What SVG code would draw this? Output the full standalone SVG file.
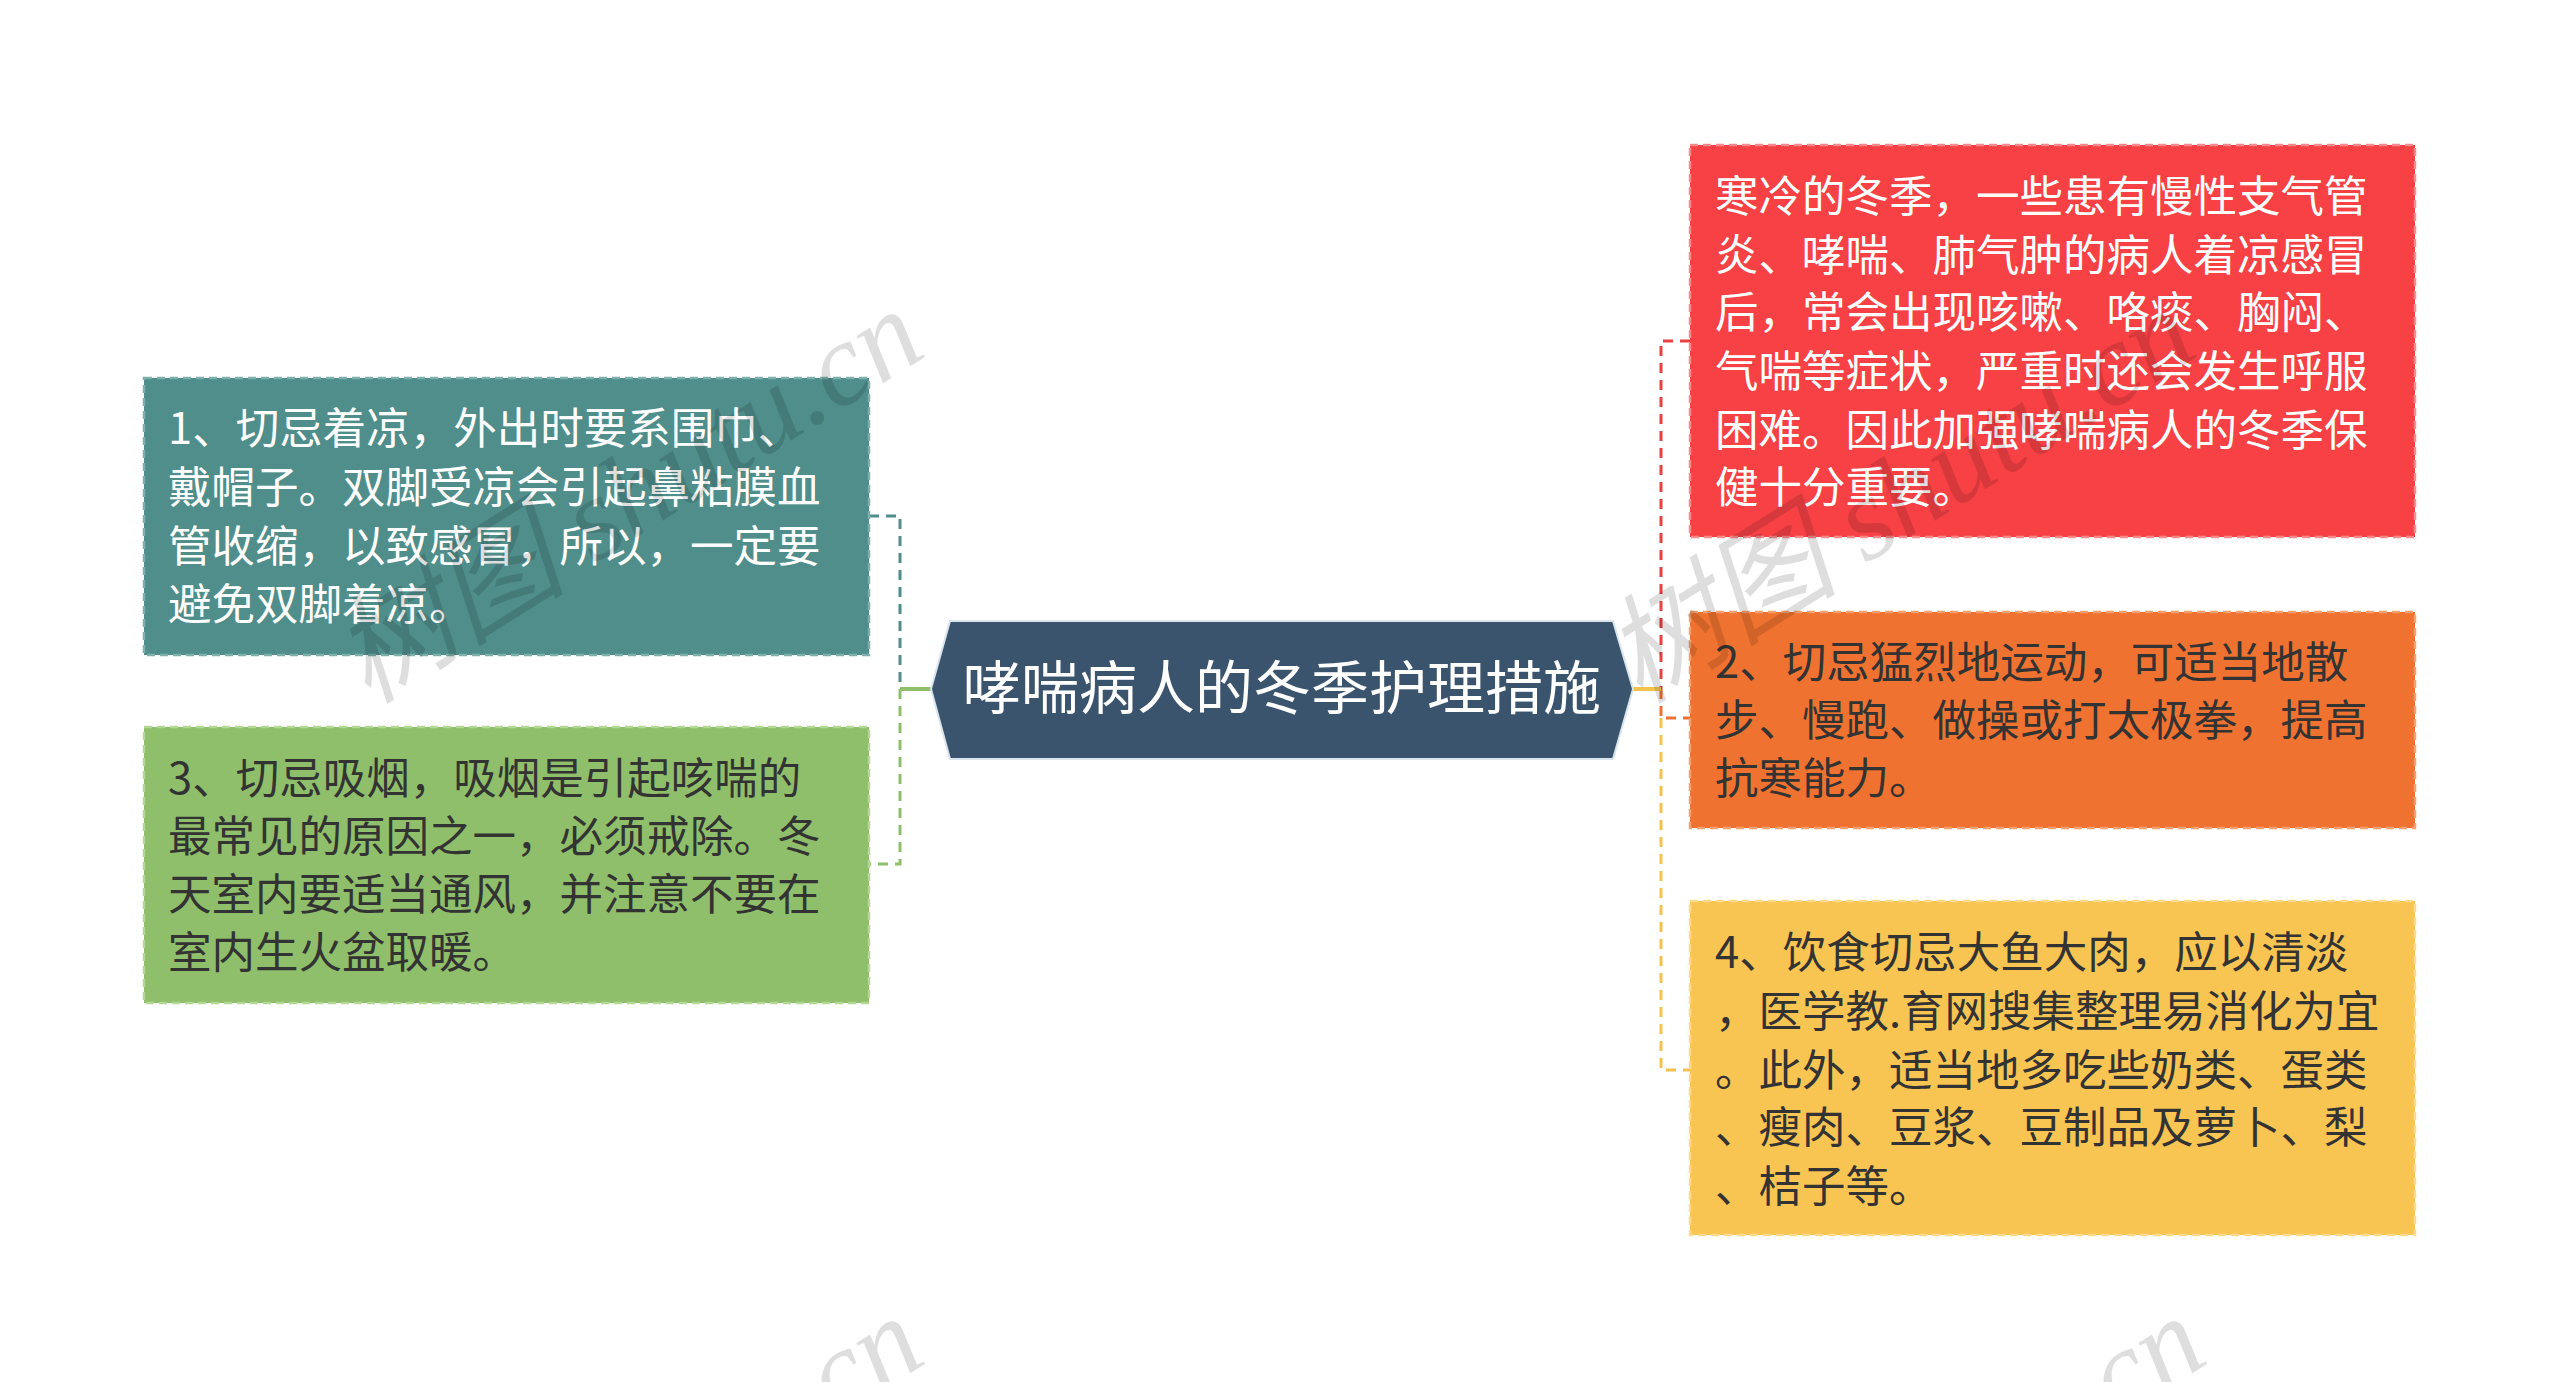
<svg xmlns="http://www.w3.org/2000/svg" width="2560" height="1382" viewBox="0 0 2560 1382">
<style>
.t{font-family:"Noto Sans CJK SC","Noto Sans",sans-serif;font-size:43.5px;}
.w{fill:#ffffff;}
.d{fill:#333333;}
.box{stroke-width:2.5;stroke-dasharray:8 5;}
.c{fill:none;stroke-width:3;stroke-dasharray:10 7;}
.wm{font-family:"Liberation Serif","Noto Sans CJK SC",serif;font-style:italic;font-size:118px;fill:#000;fill-opacity:0.13;}
</style>
<rect width="2560" height="1382" fill="#ffffff"/>
<g id="connectors">
<path class="c" stroke="#4F8E8B" d="M869 516 H900 V689"/>
<path class="c" stroke="#8FBF6A" d="M900 689 V864 H869"/>
<path d="M900 689 H931" stroke="#8FBF6A" stroke-width="4" fill="none"/>
<path class="c" stroke="#E8413F" d="M1690 341 H1661 V689"/>
<path class="c" stroke="#EE7332" d="M1661 689 V718 H1690"/>
<path class="c" stroke="#F5C24E" d="M1661 718 V1070 H1690"/>
<path d="M1633 689 H1661" stroke="#F5C24E" stroke-width="4" fill="none"/>
</g>
<g id="center">
<polygon points="931,689 950,621 1613,621 1633,689 1613,759 950,759" fill="#3A546E" stroke="#D9E4EC" stroke-width="2"/>
<text x="1282" y="709" text-anchor="middle" font-family="Noto Sans CJK SC,sans-serif" font-size="58" fill="#ffffff">哮喘病人的冬季护理措施</text>
</g>
<g id="node1">
<rect class="box" x="144" y="378" width="725" height="277" fill="#4F8E8B" stroke="#7DB0AC"/>
<text class="t w"><tspan x="168" y="444">1、切忌着凉，外出时要系围巾、</tspan><tspan x="168" y="503">戴帽子。双脚受凉会引起鼻粘膜血</tspan><tspan x="168" y="562">管收缩，以致感冒，所以，一定要</tspan><tspan x="168" y="620">避免双脚着凉。</tspan></text>
</g>
<g id="node3">
<rect class="box" x="144" y="727" width="725" height="276" fill="#8FBF6A" stroke="#B3D795"/>
<text class="t d"><tspan x="168" y="794">3、切忌吸烟，吸烟是引起咳喘的</tspan><tspan x="168" y="852">最常见的原因之一，必须戒除。冬</tspan><tspan x="168" y="910">天室内要适当通风，并注意不要在</tspan><tspan x="168" y="968">室内生火盆取暖。</tspan></text>
</g>
<g id="node0">
<rect class="box" x="1690" y="145" width="725" height="392" fill="#F74144" stroke="#FA8A8C"/>
<text class="t w"><tspan x="1715" y="212">寒冷的冬季，一些患有慢性支气管</tspan><tspan x="1715" y="271">炎、哮喘、肺气肿的病人着凉感冒</tspan><tspan x="1715" y="328">后，常会出现咳嗽、咯痰、胸闷、</tspan><tspan x="1715" y="387">气喘等症状，严重时还会发生呼服</tspan><tspan x="1715" y="446">困难。因此加强哮喘病人的冬季保</tspan><tspan x="1715" y="503">健十分重要。</tspan></text>
</g>
<g id="node2">
<rect class="box" x="1690" y="612" width="725" height="216" fill="#F07230" stroke="#F6A06F"/>
<text class="t d"><tspan x="1715" y="678">2、切忌猛烈地运动，可适当地散</tspan><tspan x="1715" y="736">步、慢跑、做操或打太极拳，提高</tspan><tspan x="1715" y="794">抗寒能力。</tspan></text>
</g>
<g id="node4">
<rect class="box" x="1690" y="901" width="725" height="334" fill="#F8C552" stroke="#FBDA8C"/>
<text class="t d"><tspan x="1715" y="968">4、饮食切忌大鱼大肉，应以清淡</tspan><tspan x="1715" y="1027">，医学教.育网搜集整理易消化为宜</tspan><tspan x="1715" y="1086">。此外，适当地多吃些奶类、蛋类</tspan><tspan x="1715" y="1143">、瘦肉、豆浆、豆制品及萝卜、梨</tspan><tspan x="1715" y="1202">、桔子等。</tspan></text>
</g>
<g id="watermarks">
<text class="wm" transform="translate(368 705) rotate(-32)">树图 shutu.cn</text>
<text class="wm" transform="translate(1640 705) rotate(-32)">树图 shutu.cn</text>
<text class="wm" transform="translate(368 1712) rotate(-32)">树图 shutu.cn</text>
<text class="wm" transform="translate(1650 1712) rotate(-32)">树图 shutu.cn</text>
</g>
</svg>
